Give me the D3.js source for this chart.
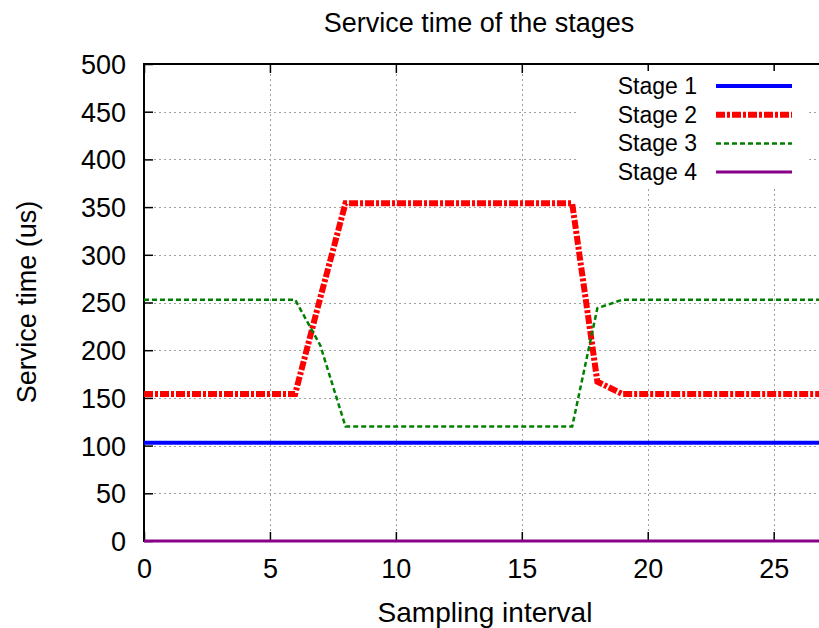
<!DOCTYPE html>
<html>
<head>
<meta charset="utf-8">
<script src="https://cdn.jsdelivr.net/npm/d3@7"></script>
<style>
  body { margin: 0; background: #fff; }
  text { font-family: "Liberation Sans", Arial, sans-serif; fill: #000; }
</style>
</head>
<body>
<svg id="chart" width="819" height="628"></svg>
<script>
// sampling intervals and service time of each stage (us)
var samples = [0, 1, 2, 3, 4, 5, 6, 7, 8, 9, 10, 11, 12, 13, 14, 15, 16, 17, 18, 19, 20, 21, 22, 23, 24, 25, 26, 27];
var stage1 = [103, 103, 103, 103, 103, 103, 103, 103, 103, 103, 103, 103, 103, 103, 103, 103, 103, 103, 103, 103, 103, 103, 103, 103, 103, 103, 103, 103];
var stage2 = [154, 154, 154, 154, 154, 154, 154, 255, 354, 354, 354, 354, 354, 354, 354, 354, 354, 354, 167, 154, 154, 154, 154, 154, 154, 154, 154, 154];
var stage3 = [253, 253, 253, 253, 253, 253, 253, 205, 120, 120, 120, 120, 120, 120, 120, 120, 120, 120, 244, 253, 253, 253, 253, 253, 253, 253, 253, 253];
var stage4 = [0, 0, 0, 0, 0, 0, 0, 0, 0, 0, 0, 0, 0, 0, 0, 0, 0, 0, 0, 0, 0, 0, 0, 0, 0, 0, 0, 0];
var seriesNames = ['Stage 1', 'Stage 2', 'Stage 3', 'Stage 4'];
var xTicks = [0, 5, 10, 15, 20, 25];
var yTicks = [0, 50, 100, 150, 200, 250, 300, 350, 400, 450, 500];

var styles = [
  {color: '#0000ff', width: 4, dash: null},
  {color: '#ff0000', width: 6, dash: '9,2,3,2'},
  {color: '#008000', width: 2.5, dash: '5,3'},
  {color: '#880088', width: 3, dash: null}
];
var seriesData = [stage1, stage2, stage3, stage4];

var pLeft = 144, pTop = 64, pRight = 819, pBottom = 541;
var x = d3.scaleLinear().domain([0, 26.8]).range([pLeft, pRight]);
var y = d3.scaleLinear().domain([0, 500]).range([pBottom, pTop]);

var svg = d3.select('#chart');

svg.append('defs').append('clipPath').attr('id', 'plotclip')
  .append('rect').attr('x', pLeft).attr('y', pTop - 5).attr('width', pRight - pLeft).attr('height', pBottom - pTop + 10);

// grid
var grid = svg.append('g').attr('stroke', '#a0a0a0').attr('stroke-width', 1).attr('stroke-dasharray', '2,3');
grid.selectAll('.gx').data(xTicks.filter(function(d) { return d > 0; })).enter().append('line')
  .attr('x1', function(d) { return Math.round(x(d)) + 0.5; }).attr('x2', function(d) { return Math.round(x(d)) + 0.5; })
  .attr('y1', pTop).attr('y2', pBottom);
grid.selectAll('.gy').data(yTicks.filter(function(d) { return d > 0 && d < 500; })).enter().append('line')
  .attr('x1', pLeft).attr('x2', pRight)
  .attr('y1', function(d) { return Math.round(y(d)) + 0.5; }).attr('y2', function(d) { return Math.round(y(d)) + 0.5; });

// axes with inward ticks
var yAxis = d3.axisLeft(y).tickValues(yTicks).tickSize(-9).tickPadding(18);
var gy = svg.append('g').attr('transform', 'translate(' + pLeft + ',0)').call(yAxis);
var xAxis = d3.axisBottom(x).tickValues(xTicks).tickSize(-9).tickPadding(18);
var gx = svg.append('g').attr('transform', 'translate(0,' + pBottom + ')').call(xAxis);
var xTop = d3.axisTop(x).tickValues(xTicks).tickSize(-9).tickFormat('');
var gt = svg.append('g').attr('transform', 'translate(0,' + pTop + ')').call(xTop);
[gx, gy, gt].forEach(function(g) {
  g.select('.domain').remove();
  g.selectAll('.tick line').attr('stroke', '#000').attr('stroke-width', 1.5);
  g.selectAll('.tick text').style('font-size', '27px').attr('font-family', '"Liberation Sans", Arial, sans-serif');
});
gy.selectAll('.tick text').attr('dy', '0.35em');
gx.selectAll('.tick text').attr('dy', '0.71em');

// frame
svg.append('path').attr('d', 'M' + pRight + ',' + pTop + 'H' + pLeft + 'V' + pBottom + 'H' + pRight)
  .attr('fill', 'none').attr('stroke', '#000').attr('stroke-width', 2);

// series lines
var line = d3.line().x(function(d, i) { return x(samples[i]); }).y(function(d) { return y(d); });
var lines = svg.append('g').attr('clip-path', 'url(#plotclip)');
seriesData.forEach(function(vals, k) {
  var st = styles[k];
  lines.append('path').attr('d', line(vals))
    .attr('fill', 'none').attr('stroke', st.color).attr('stroke-width', st.width)
    .attr('stroke-dasharray', st.dash).attr('stroke-linejoin', 'miter');
});

// legend
var legend = svg.append('g');
legend.append('rect').attr('x', 578).attr('y', 71).attr('width', 230).attr('height', 115).attr('fill', '#fff');
seriesNames.forEach(function(name, k) {
  var ly = 86 + k * 28.7;
  legend.append('text').attr('x', 697).attr('y', ly).attr('dy', '0.35em').attr('text-anchor', 'end')
    .style('font-size', '23px').text(name);
  legend.append('line').attr('x1', 716).attr('x2', 792).attr('y1', ly).attr('y2', ly)
    .attr('stroke', styles[k].color).attr('stroke-width', styles[k].width)
    .attr('stroke-dasharray', styles[k].dash);
});

// titles
svg.append('text').attr('x', 479).attr('y', 32).attr('text-anchor', 'middle').style('font-size', '27px')
  .text('Service time of the stages');
svg.append('text').attr('x', 485).attr('y', 622).attr('text-anchor', 'middle').style('font-size', '28px')
  .text('Sampling interval');
svg.append('text').attr('transform', 'translate(36,302) rotate(-90)').attr('text-anchor', 'middle').style('font-size', '27px')
  .text('Service time (us)');
</script>
</body>
</html>
